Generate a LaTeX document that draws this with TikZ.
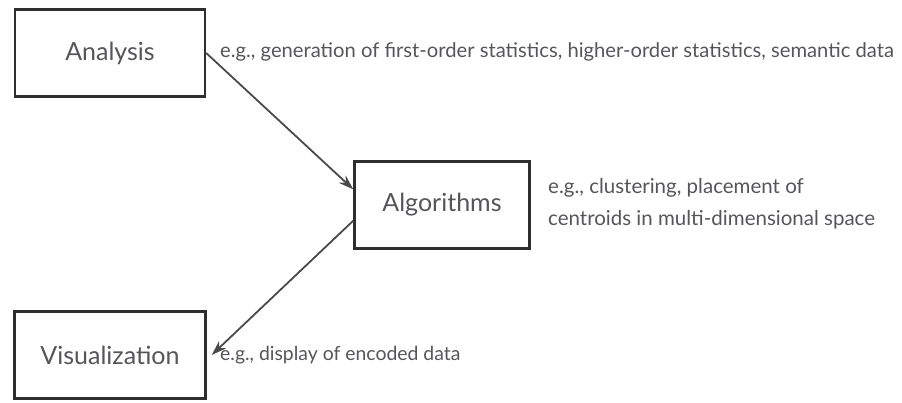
\documentclass[tikz,border=0pt]{standalone}
\usepackage{fontspec}
\setmainfont{Lato}
\usetikzlibrary{arrows.meta}
\definecolor{boxline}{HTML}{2E2E2E}
\definecolor{txt}{HTML}{55555C}
\definecolor{arr}{HTML}{4A4A4A}
\begin{document}
\begin{tikzpicture}[x=1pt,y=-1pt,
  box/.style={draw=boxline, line width=2.4pt, minimum width=#1, minimum height=87pt, inner sep=0pt, font=\fontsize{25}{29}\selectfont, text=txt},
  note/.style={anchor=west, font=\fontsize{#1}{32}\selectfont, text=txt, inner sep=0pt, align=left},
  link/.style={draw=arr, line width=1.8pt, -{Stealth[length=15pt,width=10pt]}}]
\useasboundingbox (0,0) rectangle (902,402);
\node[box=190pt] (ana) at (110,53) {Analysis};
\node[box=175pt] (alg) at (442,205) {Algorithms};
\node[box=191pt] (vis) at (110,355) {Visualization};
\node[note=20.2] (n1) at (220,52) {e.g., generation of first-order statistics, higher-order statistics, semantic data};
\node[note=20.5] (n2) at (548,204) {e.g., clustering, placement of\\centroids in multi-dimensional space};
\node[note=19.4] (n3) at (220,355) {e.g., display of encoded data};
\draw[link] (ana.east) -- (alg.170);
\draw[link] (alg.190) -- ([xshift=5pt]vis.east);
\end{tikzpicture}
\end{document}
